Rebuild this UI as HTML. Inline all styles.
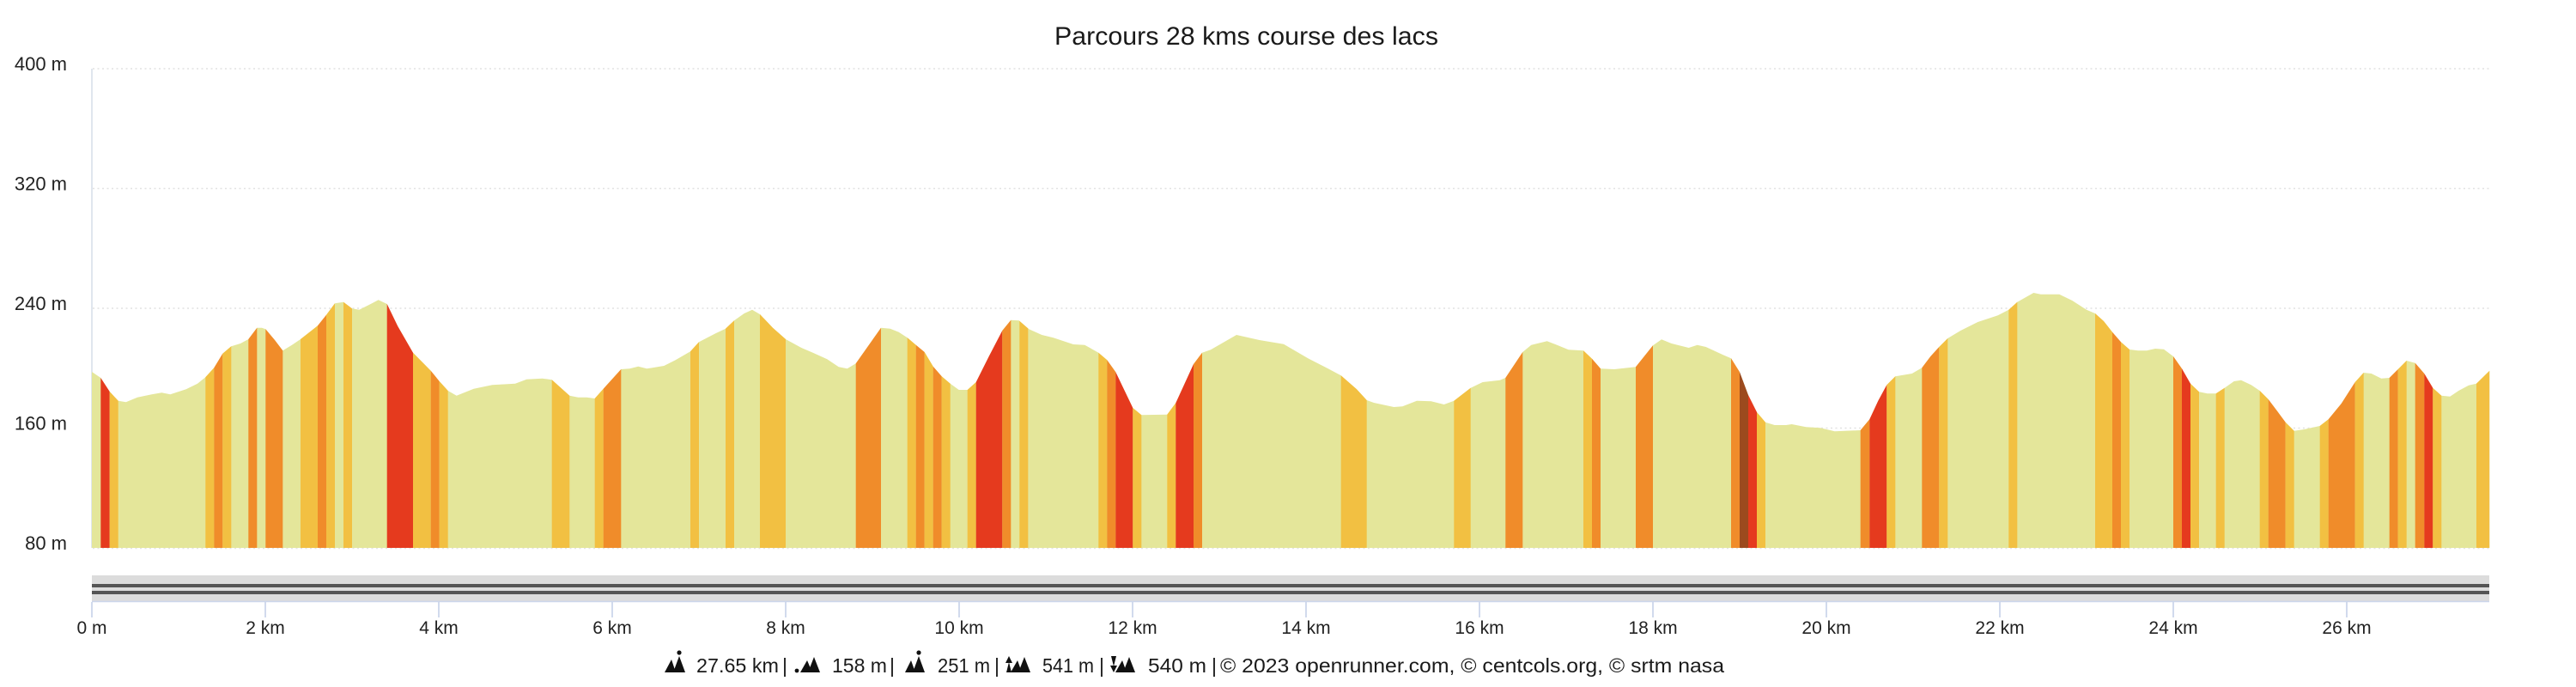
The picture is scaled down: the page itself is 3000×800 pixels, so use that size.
<!DOCTYPE html>
<html>
<head>
<meta charset="utf-8">
<style>
html,body{margin:0;padding:0;background:#fff;}
svg{display:block;}
text{font-family:"Liberation Sans",Arial,sans-serif;}
</style>
</head>
<body>
<svg width="3000" height="800" viewBox="0 0 3000 800" xmlns="http://www.w3.org/2000/svg">
<defs>
<clipPath id="prof">
<polygon points="107,433 117.3,440 127.7,456 137.7,466.7 146.7,468.3 160,462.7 176.7,459.3 188.3,457.3 198.3,459.3 216.7,453.3 230,446.7 239.3,439.3 249.3,428.3 259.3,411.7 269.3,403.3 280,400 289.3,395 299.3,381.7 305,381.7 309.3,383.3 320,396 329.3,408.3 340,401.7 350,395 370,379.3 380,366.7 390,353.3 400,351.7 410,359.3 418.3,360.7 431.7,354 440.7,349.3 450.7,354 463.3,380 481,410.7 501.7,431.7 511.7,444 521.7,455 531.7,460.7 551.7,452.7 573.3,448.3 600,446.7 613.3,441.7 631.7,440.7 642.7,442.3 653.3,451.7 663.3,460.7 673.3,462.7 683.3,462.7 692.7,464 702.7,452.7 723.3,430 733.3,429.3 743.3,426.7 753.3,429.3 773.3,426 786.7,419.3 804,409.3 814,398.3 833.3,388.3 845,382.7 855,373.3 866.7,365 876,360.7 885,366 900,381.7 915,395 933.3,405 946.7,410.7 963.3,418.3 976.7,427.3 986.7,429.3 996.7,423.3 1026,381.7 1036.7,382.7 1046.7,386.7 1056.7,393.3 1066.7,401.7 1076.7,410 1086.7,426.7 1096.7,438.3 1106.7,446.7 1116.7,454 1126.7,454 1136.7,445 1151.7,415 1167.3,385 1177.3,372.7 1186.7,373.3 1198.3,383.3 1213.3,390 1226.7,393.3 1250,401 1263.3,401.7 1279.3,410.7 1289.3,419.3 1299.3,433.3 1319.3,475 1329.3,483.3 1359.3,482.7 1369.3,469.3 1390,424 1400,410.7 1410,407.3 1440,390 1466.7,396 1495,400.7 1523.3,417.3 1546.7,429.3 1561.7,437.3 1580,453.3 1591.7,466 1600,469 1623.3,474 1633.3,473.3 1650,466.7 1666.7,467.3 1681.7,471 1693.3,466.7 1712.7,451.7 1726.7,445 1746.7,442.7 1753.3,440 1773.3,410 1783.3,401.7 1801.7,397.3 1813.3,401.7 1826.7,407.3 1844,408.3 1854,417.7 1864,429.3 1880,430 1905,427.3 1925,402.3 1935,395.3 1946.7,400 1966.7,405 1976.7,401.7 1986.7,404 2006.7,413.3 2016,417.3 2026,433.3 2036,460 2046,480 2056,491.7 2066.7,495 2080,495 2086.7,494 2103.3,497.3 2120,498.3 2136.7,502.3 2166.7,501 2177.3,488.3 2187.3,466.7 2197.3,448.3 2207.3,438.3 2226.7,435 2238.3,428.3 2248.3,415 2258.3,404 2268.3,394 2283.3,385 2303.3,375 2326.7,367.3 2339.3,360.7 2349.3,351.7 2368.3,341 2376.7,342.7 2398.3,342.7 2413.3,350 2430,360.7 2440,365 2450,374 2460,386.7 2470,398.3 2480,407 2490,408.3 2500,408.3 2510,406 2520,406.7 2531,415 2541,429.3 2551,446.7 2561,456.3 2570.7,458.3 2580.7,458.3 2590.7,451.7 2601.7,444 2610,442.7 2621.7,448.3 2631.7,455 2641.7,465 2651.7,478.3 2661.7,491.7 2671.7,501.7 2683.3,500 2701.7,496 2711.7,488.3 2726.7,470 2742.7,445 2752.7,434 2761.7,435 2773.3,440.7 2782.7,440 2792.7,430 2802.7,420 2812.7,422.7 2823.3,435 2833.3,451.7 2843.3,460.7 2853.3,461.7 2863.3,455 2875,448.7 2884,446.7 2899.3,431.7 2899.3,638 107,638"/>
</clipPath>
</defs>

<!-- Title -->
<text x="1451.5" y="52" font-size="30" fill="#1a1a1a" text-anchor="middle" textLength="447" lengthAdjust="spacingAndGlyphs">Parcours 28 kms course des lacs</text>

<!-- gridlines -->
<g stroke="#e2e2e2" stroke-width="1.5" stroke-dasharray="2 3.5">
<line x1="108" y1="80" x2="2899" y2="80"/>
<line x1="108" y1="219.5" x2="2899" y2="219.5"/>
<line x1="108" y1="359" x2="2899" y2="359"/>
<line x1="108" y1="498.5" x2="2899" y2="498.5"/>
<line x1="108" y1="638.5" x2="2899" y2="638.5"/>
</g>

<!-- y axis line -->
<line x1="107" y1="80" x2="107" y2="638" stroke="#d6dde9" stroke-width="1.5"/>

<!-- y labels -->
<g font-size="22" fill="#222" text-anchor="end">
<text x="78" y="82">400 m</text>
<text x="78" y="221.5">320 m</text>
<text x="78" y="361">240 m</text>
<text x="78" y="500.5">160 m</text>
<text x="78" y="640">80 m</text>
</g>

<!-- profile -->
<g clip-path="url(#prof)">
<rect x="107" y="300" width="2793" height="338" fill="#e4e69a"/>
<g>
<rect x="117.3" y="300" width="10.4" height="338" fill="#e53a1e"/>
<rect x="127.7" y="300" width="10" height="338" fill="#f2c042"/>
<rect x="239.3" y="300" width="10" height="338" fill="#f2c042"/>
<rect x="249.3" y="300" width="10" height="338" fill="#f08c2a"/>
<rect x="259.3" y="300" width="10" height="338" fill="#f2c042"/>
<rect x="289.3" y="300" width="10" height="338" fill="#f08c2a"/>
<rect x="309.3" y="300" width="20" height="338" fill="#f08c2a"/>
<rect x="350" y="300" width="20" height="338" fill="#f2c042"/>
<rect x="370" y="300" width="10" height="338" fill="#f08c2a"/>
<rect x="380" y="300" width="10" height="338" fill="#f2c042"/>
<rect x="400" y="300" width="10" height="338" fill="#f2c042"/>
<rect x="450.7" y="300" width="30.3" height="338" fill="#e53a1e"/>
<rect x="481" y="300" width="20.7" height="338" fill="#f2c042"/>
<rect x="501.7" y="300" width="10" height="338" fill="#f08c2a"/>
<rect x="511.7" y="300" width="10" height="338" fill="#f2c042"/>
<rect x="642.7" y="300" width="20.6" height="338" fill="#f2c042"/>
<rect x="692.7" y="300" width="10" height="338" fill="#f2c042"/>
<rect x="702.7" y="300" width="20.6" height="338" fill="#f08c2a"/>
<rect x="804" y="300" width="10" height="338" fill="#f2c042"/>
<rect x="845" y="300" width="10" height="338" fill="#f2c042"/>
<rect x="885" y="300" width="30" height="338" fill="#f2c042"/>
<rect x="996.7" y="300" width="29.3" height="338" fill="#f08c2a"/>
<rect x="1056.7" y="300" width="10" height="338" fill="#f2c042"/>
<rect x="1066.7" y="300" width="10" height="338" fill="#f08c2a"/>
<rect x="1076.7" y="300" width="10" height="338" fill="#f2c042"/>
<rect x="1086.7" y="300" width="10" height="338" fill="#f08c2a"/>
<rect x="1096.7" y="300" width="10" height="338" fill="#f2c042"/>
<rect x="1126.7" y="300" width="10" height="338" fill="#f2c042"/>
<rect x="1136.7" y="300" width="30.6" height="338" fill="#e53a1e"/>
<rect x="1167.3" y="300" width="10" height="338" fill="#f08c2a"/>
<rect x="1187.3" y="300" width="10" height="338" fill="#f2c042"/>
<rect x="1279.3" y="300" width="10" height="338" fill="#f2c042"/>
<rect x="1289.3" y="300" width="10" height="338" fill="#f08c2a"/>
<rect x="1299.3" y="300" width="20" height="338" fill="#e53a1e"/>
<rect x="1319.3" y="300" width="10" height="338" fill="#f2c042"/>
<rect x="1359.3" y="300" width="10" height="338" fill="#f2c042"/>
<rect x="1369.3" y="300" width="20.7" height="338" fill="#e53a1e"/>
<rect x="1390" y="300" width="10" height="338" fill="#f08c2a"/>
<rect x="1561.7" y="300" width="30" height="338" fill="#f2c042"/>
<rect x="1693.3" y="300" width="19.4" height="338" fill="#f2c042"/>
<rect x="1753.3" y="300" width="20" height="338" fill="#f08c2a"/>
<rect x="1844" y="300" width="10" height="338" fill="#f2c042"/>
<rect x="1854" y="300" width="10" height="338" fill="#f08c2a"/>
<rect x="1905" y="300" width="20" height="338" fill="#f08c2a"/>
<rect x="2016" y="300" width="10" height="338" fill="#f08c2a"/>
<rect x="2026" y="300" width="10" height="338" fill="#9c4a1e"/>
<rect x="2036" y="300" width="10" height="338" fill="#e53a1e"/>
<rect x="2046" y="300" width="10" height="338" fill="#f2c042"/>
<rect x="2166.7" y="300" width="10.6" height="338" fill="#f08c2a"/>
<rect x="2177.3" y="300" width="20" height="338" fill="#e53a1e"/>
<rect x="2197.3" y="300" width="10" height="338" fill="#f2c042"/>
<rect x="2238.3" y="300" width="20" height="338" fill="#f08c2a"/>
<rect x="2258.3" y="300" width="10" height="338" fill="#f2c042"/>
<rect x="2339.3" y="300" width="10" height="338" fill="#f2c042"/>
<rect x="2440" y="300" width="20" height="338" fill="#f2c042"/>
<rect x="2460" y="300" width="10" height="338" fill="#f08c2a"/>
<rect x="2470" y="300" width="10" height="338" fill="#f2c042"/>
<rect x="2531" y="300" width="10" height="338" fill="#f08c2a"/>
<rect x="2541" y="300" width="10" height="338" fill="#e53a1e"/>
<rect x="2551" y="300" width="10" height="338" fill="#f2c042"/>
<rect x="2580.7" y="300" width="10" height="338" fill="#f2c042"/>
<rect x="2631.7" y="300" width="10" height="338" fill="#f2c042"/>
<rect x="2641.7" y="300" width="20" height="338" fill="#f08c2a"/>
<rect x="2661.7" y="300" width="10" height="338" fill="#f2c042"/>
<rect x="2701.7" y="300" width="10" height="338" fill="#f2c042"/>
<rect x="2711.7" y="300" width="31" height="338" fill="#f08c2a"/>
<rect x="2742.7" y="300" width="10" height="338" fill="#f2c042"/>
<rect x="2782.7" y="300" width="10" height="338" fill="#f08c2a"/>
<rect x="2792.7" y="300" width="10" height="338" fill="#f2c042"/>
<rect x="2812.7" y="300" width="10.6" height="338" fill="#f08c2a"/>
<rect x="2823.3" y="300" width="10" height="338" fill="#e53a1e"/>
<rect x="2833.3" y="300" width="10" height="338" fill="#f2c042"/>
<rect x="2884" y="300" width="15.3" height="338" fill="#f2c042"/>
</g>
</g>

<!-- navigator -->
<rect x="107" y="670" width="2792" height="31" fill="#dcdcdc"/>
<rect x="107" y="680" width="2792" height="4" fill="#555"/>
<rect x="107" y="688" width="2792" height="4" fill="#555"/>
<line x1="107" y1="700.5" x2="2899" y2="700.5" stroke="#ccd6eb" stroke-width="1.5"/>

<!-- x ticks -->
<g stroke="#ccd6eb" stroke-width="1.8">
<line x1="107" y1="701" x2="107" y2="719"/>
<line x1="309" y1="701" x2="309" y2="719"/>
<line x1="511" y1="701" x2="511" y2="719"/>
<line x1="713" y1="701" x2="713" y2="719"/>
<line x1="915" y1="701" x2="915" y2="719"/>
<line x1="1117" y1="701" x2="1117" y2="719"/>
<line x1="1319" y1="701" x2="1319" y2="719"/>
<line x1="1521" y1="701" x2="1521" y2="719"/>
<line x1="1723" y1="701" x2="1723" y2="719"/>
<line x1="1925" y1="701" x2="1925" y2="719"/>
<line x1="2127" y1="701" x2="2127" y2="719"/>
<line x1="2329" y1="701" x2="2329" y2="719"/>
<line x1="2531" y1="701" x2="2531" y2="719"/>
<line x1="2733" y1="701" x2="2733" y2="719"/>
</g>
<g font-size="21" fill="#222" text-anchor="middle">
<text x="107" y="738">0 m</text>
<text x="309" y="738">2 km</text>
<text x="511" y="738">4 km</text>
<text x="713" y="738">6 km</text>
<text x="915" y="738">8 km</text>
<text x="1117" y="738">10 km</text>
<text x="1319" y="738">12 km</text>
<text x="1521" y="738">14 km</text>
<text x="1723" y="738">16 km</text>
<text x="1925" y="738">18 km</text>
<text x="2127" y="738">20 km</text>
<text x="2329" y="738">22 km</text>
<text x="2531" y="738">24 km</text>
<text x="2733" y="738">26 km</text>
</g>

<!-- footer icons -->
<g fill="#111">
<polygon points="774,783 782,768 787,783"/>
<polygon points="784,783 791,764 798,783"/>
<circle cx="791" cy="760" r="2.6"/>
<circle cx="928" cy="781" r="2.4"/>
<polygon points="932,783 940,769 946,783"/>
<polygon points="941,783 948,765 955,783"/>
<polygon points="1054,783 1061,769 1066,783"/>
<polygon points="1063,783 1070,764 1077,783"/>
<circle cx="1070" cy="760" r="2.6"/>
<polygon points="1172,783 1175,771 1178,783"/>
<polygon points="1171,772 1175,764 1179,772"/>
<polygon points="1177,783 1185,769 1190,783"/>
<polygon points="1186,783 1193,765 1200,783"/>
<polygon points="1294,764 1297,776 1300,764"/>
<polygon points="1293,775 1297,783 1301,775"/>
<polygon points="1299,783 1307,769 1312,783"/>
<polygon points="1308,783 1315,765 1322,783"/>
</g>

<!-- footer text -->
<g font-size="23" fill="#1a1a1a">
<text x="811" y="783" textLength="96" lengthAdjust="spacingAndGlyphs">27.65 km</text>
<text x="911" y="783">|</text>
<text x="969" y="783" textLength="64" lengthAdjust="spacingAndGlyphs">158 m</text>
<text x="1036" y="783">|</text>
<text x="1092" y="783" textLength="61" lengthAdjust="spacingAndGlyphs">251 m</text>
<text x="1158" y="783">|</text>
<text x="1214" y="783" textLength="60" lengthAdjust="spacingAndGlyphs">541 m</text>
<text x="1280" y="783">|</text>
<text x="1337" y="783" textLength="68" lengthAdjust="spacingAndGlyphs">540 m</text>
<text x="1411" y="783">|</text>
<text x="1421" y="783" textLength="587" lengthAdjust="spacingAndGlyphs">© 2023 openrunner.com, © centcols.org, © srtm nasa</text>
</g>
</svg>
</body>
</html>
